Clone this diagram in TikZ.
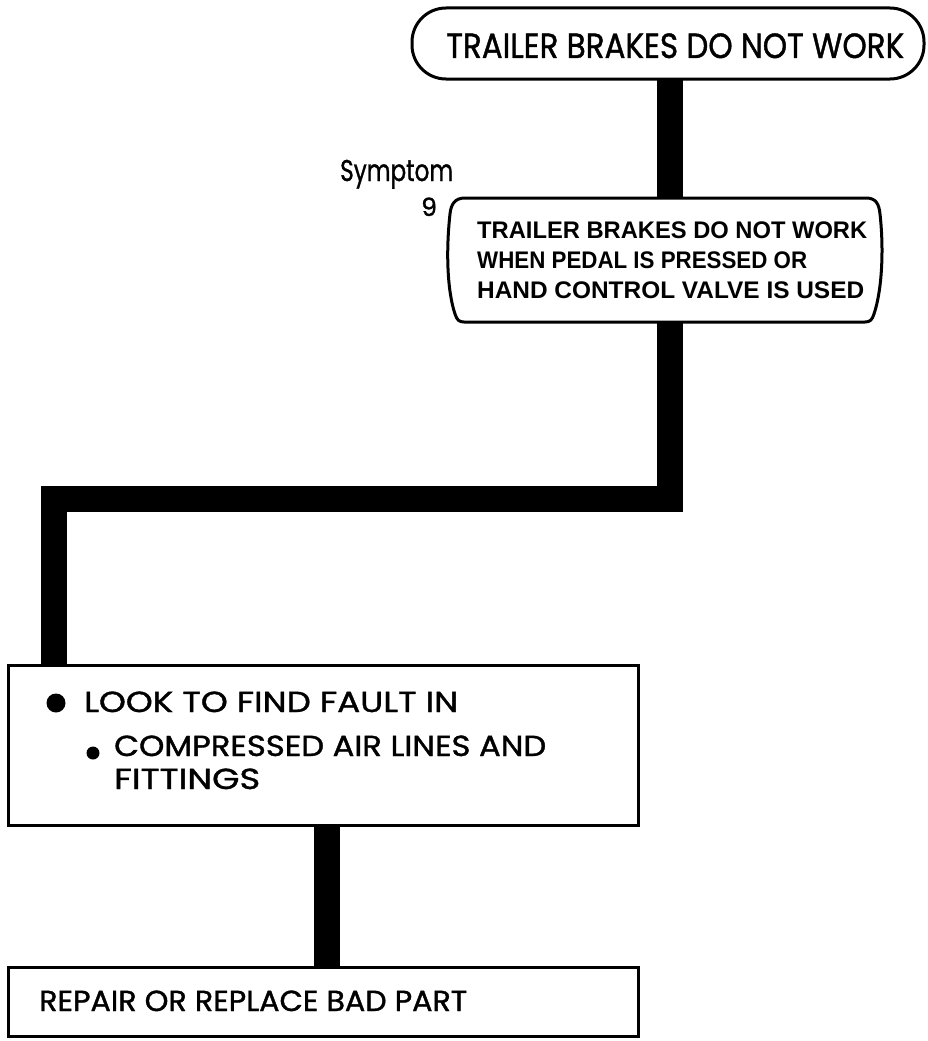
\documentclass[tikz,border=0pt]{standalone}
\usepackage{fontspec}
\usepackage{graphicx}
\newfontfamily\fut[FakeBold=1.2]{Poppins}
\newfontfamily\hel{Liberation Sans}
\newcommand\fitw[2]{\resizebox{#1pt}{\height}{#2}}
\begin{document}
\begin{tikzpicture}[x=1pt,y=-1pt,
  box/.style={draw, line width=3pt, inner sep=0pt, outer sep=0pt, anchor=north west},
  bar/.style={line width=26pt, line cap=butt, line join=miter},
  ftxt/.style={inner sep=0pt, anchor=base west, font=\fut\fontsize{29}{34}\selectfont},
  htxt/.style={inner sep=0pt, anchor=base west, font=\hel\bfseries\fontsize{24}{28}\selectfont}]
\useasboundingbox (0,0) rectangle (927,1041);
% top box
\node[box, rounded corners=34pt, minimum width=512pt, minimum height=71pt] (top) at (412,8) {};
\node[ftxt, font=\fut\fontsize{35}{40}\selectfont] (toptxt) at (446,58) {\fitw{458}{TRAILER BRAKES DO NOT WORK}};
% symptom label
\node[ftxt, font=\fut\fontsize{30}{34}\selectfont] (symlbl) at (340,181) {\fitw{113}{Symptom}};
\node[ftxt, font=\fut\fontsize{25}{30}\selectfont] (symnum) at (421,216) {9};
% symptom box with bulged sides
\coordinate (s9nw) at (451,198);
\coordinate (s9se) at (880,322);
\draw[line width=3pt, line join=round]
  (465,198) -- (866,198)
  .. controls (876,198) and (879,204) .. (880,214)
  .. controls (884,250) and (882,290) .. (874,314)
  .. controls (872,320) and (870,322) .. (865,322)
  -- (464,322)
  .. controls (459,322) and (457,320) .. (455,314)
  .. controls (447,290) and (446,250) .. (450,214)
  .. controls (451,204) and (455,198) .. (465,198) -- cycle;
\node[inner sep=0pt, outer sep=0pt, minimum width=429pt, minimum height=124pt, anchor=north west] (s9) at (s9nw) {};
\node[htxt] (l1) at (477,238) {\fitw{390}{TRAILER BRAKES DO NOT WORK}};
\node[htxt] (l2) at (477,268) {\fitw{330}{WHEN PEDAL IS PRESSED OR}};
\node[htxt] (l3) at (477,298) {\fitw{387}{HAND CONTROL VALVE IS USED}};
% look box
\node[box, minimum width=630pt, minimum height=160pt] (look) at (8,665) {};
\fill (56,703) circle (9.5pt);
\node[ftxt] (k1) at (84,712) {\fitw{374}{LOOK TO FIND FAULT IN}};
\fill (93,753) circle (6.5pt);
\node[ftxt] (k2) at (114,756) {\fitw{432}{COMPRESSED AIR LINES AND}};
\node[ftxt] (k3) at (114,789) {\fitw{146}{FITTINGS}};
% repair box
\node[box, minimum width=630pt, minimum height=69pt] (rep) at (8,967) {};
\node[ftxt] (r1) at (39,1011) {\fitw{428}{REPAIR OR REPLACE BAD PART}};
% connectors
\coordinate (xa) at (670,0);
\coordinate (xb) at (54,0);
\coordinate (xc) at (327,0);
\coordinate (ym) at (0,499);
\draw[bar] (top.south -| xa) -- (s9.north -| xa);
\draw[bar] (s9.south -| xa) -- (xa |- ym) -- (xb |- ym) -- (look.north -| xb);
\draw[bar] (look.south -| xc) -- (rep.north -| xc);
\end{tikzpicture}
\end{document}
